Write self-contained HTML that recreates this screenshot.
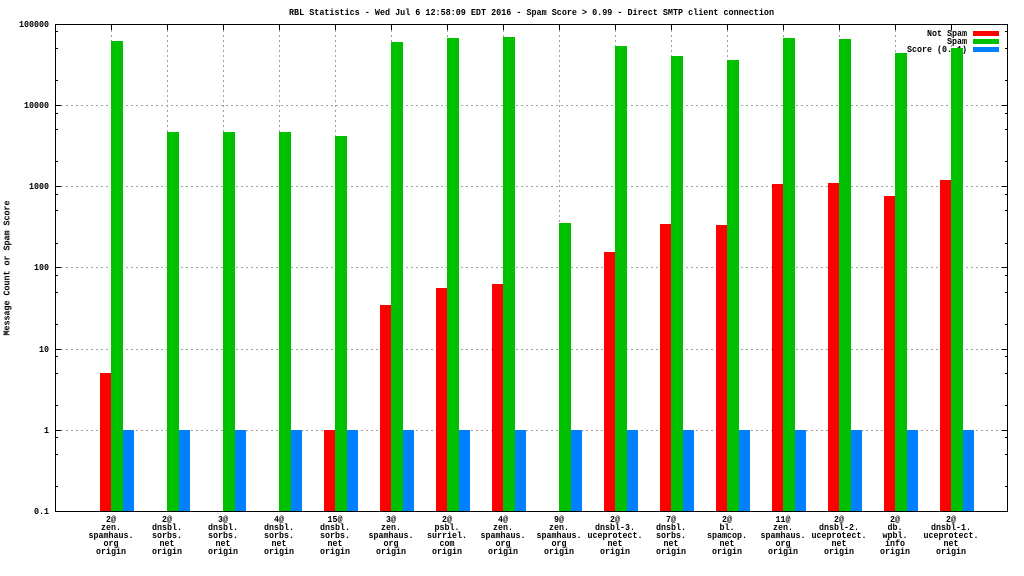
<!DOCTYPE html>
<html>
<head>
<meta charset="utf-8">
<style>
  html, body { margin:0; padding:0; background:#fff; }
  svg { display:block; }
  text { font-family: "Liberation Mono", "DejaVu Sans Mono", monospace; font-size:9px; font-weight:bold; fill:#000; }
</style>
</head>
<body>
<svg width="1024" height="576" viewBox="0 0 1024 576" xmlns="http://www.w3.org/2000/svg">
  <rect x="0" y="0" width="1024" height="576" fill="#fff"/>

  <!-- Title -->
  <text x="531.5" y="15" text-anchor="middle" textLength="485" lengthAdjust="spacingAndGlyphs">RBL Statistics - Wed Jul  6 12:58:09 EDT 2016 - Spam Score &gt; 0.99 - Direct SMTP client connection</text>

  <!-- Grid -->
  <g stroke="#a0a0a0" stroke-width="1" stroke-dasharray="2,3" fill="none" shape-rendering="crispEdges">
    <path d="M56 430.5H1007 M56 349.5H1007 M56 267.5H1007 M56 186.5H1007 M56 105.5H1007"/>
    <path d="M111.5 25V511 M167.5 25V511 M223.5 25V511 M279.5 25V511 M335.5 25V511 M391.5 25V511 M447.5 25V511 M503.5 25V511 M559.5 25V511 M615.5 25V511 M671.5 25V511 M727.5 25V511 M783.5 25V511 M839.5 25V511 M895.5 25V511 M951.5 25V511"/>
  </g>

  <!-- Ticks -->
  <g stroke="#000" stroke-width="1" fill="none" shape-rendering="crispEdges">
    <path d="M55 430.5h6 M55 349.5h6 M55 267.5h6 M55 186.5h6 M55 105.5h6 M1008 430.5h-6 M1008 349.5h-6 M1008 267.5h-6 M1008 186.5h-6 M1008 105.5h-6"/>
    <path d="M55 486.5h3 M55 454.5h3 M55 437.5h3 M55 405.5h3 M55 373.5h3 M55 356.5h3 M55 324.5h3 M55 292.5h3 M55 275.5h3 M55 243.5h3 M55 210.5h3 M55 194.5h3 M55 161.5h3 M55 129.5h3 M55 113.5h3 M55 80.5h3 M55 48.5h3 M55 31.5h3"/>
    <path d="M1008 486.5h-3 M1008 454.5h-3 M1008 437.5h-3 M1008 405.5h-3 M1008 373.5h-3 M1008 356.5h-3 M1008 324.5h-3 M1008 292.5h-3 M1008 275.5h-3 M1008 243.5h-3 M1008 210.5h-3 M1008 194.5h-3 M1008 161.5h-3 M1008 129.5h-3 M1008 113.5h-3 M1008 80.5h-3 M1008 48.5h-3 M1008 31.5h-3"/>
    <path d="M111.5 24v6 M167.5 24v6 M223.5 24v6 M279.5 24v6 M335.5 24v6 M391.5 24v6 M447.5 24v6 M503.5 24v6 M559.5 24v6 M615.5 24v6 M671.5 24v6 M727.5 24v6 M783.5 24v6 M839.5 24v6 M895.5 24v6 M951.5 24v6"/>
  </g>

  <!-- Legend -->
  <text x="967" y="36" text-anchor="end" textLength="40" lengthAdjust="spacingAndGlyphs">Not Spam</text>
  <text x="967" y="44" text-anchor="end" textLength="20" lengthAdjust="spacingAndGlyphs">Spam</text>
  <text x="967" y="52" text-anchor="end" textLength="60" lengthAdjust="spacingAndGlyphs">Score (0..1)</text>
  <g shape-rendering="crispEdges">
    <rect x="973" y="31" width="26" height="5" fill="#ff0000"/>
    <rect x="973" y="39" width="26" height="5" fill="#00c000"/>
    <rect x="973" y="47" width="26" height="5" fill="#0080ff"/>
  </g>

  <!-- Bars -->
  <g shape-rendering="crispEdges">
    <g fill="#ff0000">
      <rect x="100" y="373" width="11" height="138"/>
      <rect x="324" y="430" width="11" height="81"/>
      <rect x="380" y="305" width="11" height="206"/>
      <rect x="436" y="288" width="11" height="223"/>
      <rect x="492" y="284" width="11" height="227"/>
      <rect x="604" y="252" width="11" height="259"/>
      <rect x="660" y="224" width="11" height="287"/>
      <rect x="716" y="225" width="11" height="286"/>
      <rect x="772" y="184" width="11" height="327"/>
      <rect x="828" y="183" width="11" height="328"/>
      <rect x="884" y="196" width="11" height="315"/>
      <rect x="940" y="180" width="11" height="331"/>
    </g>
    <g fill="#00c000">
      <rect x="111" y="41" width="12" height="470"/>
      <rect x="167" y="132" width="12" height="379"/>
      <rect x="223" y="132" width="12" height="379"/>
      <rect x="279" y="132" width="12" height="379"/>
      <rect x="335" y="136" width="12" height="375"/>
      <rect x="391" y="42" width="12" height="469"/>
      <rect x="447" y="38" width="12" height="473"/>
      <rect x="503" y="37" width="12" height="474"/>
      <rect x="559" y="223" width="12" height="288"/>
      <rect x="615" y="46" width="12" height="465"/>
      <rect x="671" y="56" width="12" height="455"/>
      <rect x="727" y="60" width="12" height="451"/>
      <rect x="783" y="38" width="12" height="473"/>
      <rect x="839" y="39" width="12" height="472"/>
      <rect x="895" y="53" width="12" height="458"/>
      <rect x="951" y="48" width="12" height="463"/>
    </g>
    <g fill="#0080ff">
      <rect x="123" y="430" width="11" height="81"/>
      <rect x="179" y="430" width="11" height="81"/>
      <rect x="235" y="430" width="11" height="81"/>
      <rect x="291" y="430" width="11" height="81"/>
      <rect x="347" y="430" width="11" height="81"/>
      <rect x="403" y="430" width="11" height="81"/>
      <rect x="459" y="430" width="11" height="81"/>
      <rect x="515" y="430" width="11" height="81"/>
      <rect x="571" y="430" width="11" height="81"/>
      <rect x="627" y="430" width="11" height="81"/>
      <rect x="683" y="430" width="11" height="81"/>
      <rect x="739" y="430" width="11" height="81"/>
      <rect x="795" y="430" width="11" height="81"/>
      <rect x="851" y="430" width="11" height="81"/>
      <rect x="907" y="430" width="11" height="81"/>
      <rect x="963" y="430" width="11" height="81"/>
    </g>
  </g>

  <!-- Border -->
  <rect x="55.5" y="24.5" width="952" height="487" fill="none" stroke="#000" stroke-width="1" shape-rendering="crispEdges"/>

  <!-- Y tick labels -->
  <g text-anchor="end">
    <text x="49" y="514" textLength="15" lengthAdjust="spacingAndGlyphs">0.1</text>
    <text x="49" y="433" textLength="5" lengthAdjust="spacingAndGlyphs">1</text>
    <text x="49" y="352" textLength="10" lengthAdjust="spacingAndGlyphs">10</text>
    <text x="49" y="270" textLength="15" lengthAdjust="spacingAndGlyphs">100</text>
    <text x="49" y="189" textLength="20" lengthAdjust="spacingAndGlyphs">1000</text>
    <text x="49" y="108" textLength="25" lengthAdjust="spacingAndGlyphs">10000</text>
    <text x="49" y="27" textLength="30" lengthAdjust="spacingAndGlyphs">100000</text>
  </g>

  <!-- Y axis label -->
  <text transform="translate(9.5,268) rotate(-90)" text-anchor="middle" textLength="135" lengthAdjust="spacingAndGlyphs">Message Count or Spam Score</text>

  <!-- X labels -->
  <g text-anchor="middle">
    <g transform="translate(111,0)">
      <text x="0" y="522" textLength="10" lengthAdjust="spacingAndGlyphs">2@</text>
      <text x="0" y="530" textLength="20" lengthAdjust="spacingAndGlyphs">zen.</text>
      <text x="0" y="538" textLength="45" lengthAdjust="spacingAndGlyphs">spamhaus.</text>
      <text x="0" y="546" textLength="15" lengthAdjust="spacingAndGlyphs">org</text>
      <text x="0" y="554" textLength="30" lengthAdjust="spacingAndGlyphs">origin</text>
    </g>
    <g transform="translate(167,0)">
      <text x="0" y="522" textLength="10" lengthAdjust="spacingAndGlyphs">2@</text>
      <text x="0" y="530" textLength="30" lengthAdjust="spacingAndGlyphs">dnsbl.</text>
      <text x="0" y="538" textLength="30" lengthAdjust="spacingAndGlyphs">sorbs.</text>
      <text x="0" y="546" textLength="15" lengthAdjust="spacingAndGlyphs">net</text>
      <text x="0" y="554" textLength="30" lengthAdjust="spacingAndGlyphs">origin</text>
    </g>
    <g transform="translate(223,0)">
      <text x="0" y="522" textLength="10" lengthAdjust="spacingAndGlyphs">3@</text>
      <text x="0" y="530" textLength="30" lengthAdjust="spacingAndGlyphs">dnsbl.</text>
      <text x="0" y="538" textLength="30" lengthAdjust="spacingAndGlyphs">sorbs.</text>
      <text x="0" y="546" textLength="15" lengthAdjust="spacingAndGlyphs">net</text>
      <text x="0" y="554" textLength="30" lengthAdjust="spacingAndGlyphs">origin</text>
    </g>
    <g transform="translate(279,0)">
      <text x="0" y="522" textLength="10" lengthAdjust="spacingAndGlyphs">4@</text>
      <text x="0" y="530" textLength="30" lengthAdjust="spacingAndGlyphs">dnsbl.</text>
      <text x="0" y="538" textLength="30" lengthAdjust="spacingAndGlyphs">sorbs.</text>
      <text x="0" y="546" textLength="15" lengthAdjust="spacingAndGlyphs">net</text>
      <text x="0" y="554" textLength="30" lengthAdjust="spacingAndGlyphs">origin</text>
    </g>
    <g transform="translate(335,0)">
      <text x="0" y="522" textLength="15" lengthAdjust="spacingAndGlyphs">15@</text>
      <text x="0" y="530" textLength="30" lengthAdjust="spacingAndGlyphs">dnsbl.</text>
      <text x="0" y="538" textLength="30" lengthAdjust="spacingAndGlyphs">sorbs.</text>
      <text x="0" y="546" textLength="15" lengthAdjust="spacingAndGlyphs">net</text>
      <text x="0" y="554" textLength="30" lengthAdjust="spacingAndGlyphs">origin</text>
    </g>
    <g transform="translate(391,0)">
      <text x="0" y="522" textLength="10" lengthAdjust="spacingAndGlyphs">3@</text>
      <text x="0" y="530" textLength="20" lengthAdjust="spacingAndGlyphs">zen.</text>
      <text x="0" y="538" textLength="45" lengthAdjust="spacingAndGlyphs">spamhaus.</text>
      <text x="0" y="546" textLength="15" lengthAdjust="spacingAndGlyphs">org</text>
      <text x="0" y="554" textLength="30" lengthAdjust="spacingAndGlyphs">origin</text>
    </g>
    <g transform="translate(447,0)">
      <text x="0" y="522" textLength="10" lengthAdjust="spacingAndGlyphs">2@</text>
      <text x="0" y="530" textLength="25" lengthAdjust="spacingAndGlyphs">psbl.</text>
      <text x="0" y="538" textLength="40" lengthAdjust="spacingAndGlyphs">surriel.</text>
      <text x="0" y="546" textLength="15" lengthAdjust="spacingAndGlyphs">com</text>
      <text x="0" y="554" textLength="30" lengthAdjust="spacingAndGlyphs">origin</text>
    </g>
    <g transform="translate(503,0)">
      <text x="0" y="522" textLength="10" lengthAdjust="spacingAndGlyphs">4@</text>
      <text x="0" y="530" textLength="20" lengthAdjust="spacingAndGlyphs">zen.</text>
      <text x="0" y="538" textLength="45" lengthAdjust="spacingAndGlyphs">spamhaus.</text>
      <text x="0" y="546" textLength="15" lengthAdjust="spacingAndGlyphs">org</text>
      <text x="0" y="554" textLength="30" lengthAdjust="spacingAndGlyphs">origin</text>
    </g>
    <g transform="translate(559,0)">
      <text x="0" y="522" textLength="10" lengthAdjust="spacingAndGlyphs">9@</text>
      <text x="0" y="530" textLength="20" lengthAdjust="spacingAndGlyphs">zen.</text>
      <text x="0" y="538" textLength="45" lengthAdjust="spacingAndGlyphs">spamhaus.</text>
      <text x="0" y="546" textLength="15" lengthAdjust="spacingAndGlyphs">org</text>
      <text x="0" y="554" textLength="30" lengthAdjust="spacingAndGlyphs">origin</text>
    </g>
    <g transform="translate(615,0)">
      <text x="0" y="522" textLength="10" lengthAdjust="spacingAndGlyphs">2@</text>
      <text x="0" y="530" textLength="40" lengthAdjust="spacingAndGlyphs">dnsbl-3.</text>
      <text x="0" y="538" textLength="55" lengthAdjust="spacingAndGlyphs">uceprotect.</text>
      <text x="0" y="546" textLength="15" lengthAdjust="spacingAndGlyphs">net</text>
      <text x="0" y="554" textLength="30" lengthAdjust="spacingAndGlyphs">origin</text>
    </g>
    <g transform="translate(671,0)">
      <text x="0" y="522" textLength="10" lengthAdjust="spacingAndGlyphs">7@</text>
      <text x="0" y="530" textLength="30" lengthAdjust="spacingAndGlyphs">dnsbl.</text>
      <text x="0" y="538" textLength="30" lengthAdjust="spacingAndGlyphs">sorbs.</text>
      <text x="0" y="546" textLength="15" lengthAdjust="spacingAndGlyphs">net</text>
      <text x="0" y="554" textLength="30" lengthAdjust="spacingAndGlyphs">origin</text>
    </g>
    <g transform="translate(727,0)">
      <text x="0" y="522" textLength="10" lengthAdjust="spacingAndGlyphs">2@</text>
      <text x="0" y="530" textLength="15" lengthAdjust="spacingAndGlyphs">bl.</text>
      <text x="0" y="538" textLength="40" lengthAdjust="spacingAndGlyphs">spamcop.</text>
      <text x="0" y="546" textLength="15" lengthAdjust="spacingAndGlyphs">net</text>
      <text x="0" y="554" textLength="30" lengthAdjust="spacingAndGlyphs">origin</text>
    </g>
    <g transform="translate(783,0)">
      <text x="0" y="522" textLength="15" lengthAdjust="spacingAndGlyphs">11@</text>
      <text x="0" y="530" textLength="20" lengthAdjust="spacingAndGlyphs">zen.</text>
      <text x="0" y="538" textLength="45" lengthAdjust="spacingAndGlyphs">spamhaus.</text>
      <text x="0" y="546" textLength="15" lengthAdjust="spacingAndGlyphs">org</text>
      <text x="0" y="554" textLength="30" lengthAdjust="spacingAndGlyphs">origin</text>
    </g>
    <g transform="translate(839,0)">
      <text x="0" y="522" textLength="10" lengthAdjust="spacingAndGlyphs">2@</text>
      <text x="0" y="530" textLength="40" lengthAdjust="spacingAndGlyphs">dnsbl-2.</text>
      <text x="0" y="538" textLength="55" lengthAdjust="spacingAndGlyphs">uceprotect.</text>
      <text x="0" y="546" textLength="15" lengthAdjust="spacingAndGlyphs">net</text>
      <text x="0" y="554" textLength="30" lengthAdjust="spacingAndGlyphs">origin</text>
    </g>
    <g transform="translate(895,0)">
      <text x="0" y="522" textLength="10" lengthAdjust="spacingAndGlyphs">2@</text>
      <text x="0" y="530" textLength="15" lengthAdjust="spacingAndGlyphs">db.</text>
      <text x="0" y="538" textLength="25" lengthAdjust="spacingAndGlyphs">wpbl.</text>
      <text x="0" y="546" textLength="20" lengthAdjust="spacingAndGlyphs">info</text>
      <text x="0" y="554" textLength="30" lengthAdjust="spacingAndGlyphs">origin</text>
    </g>
    <g transform="translate(951,0)">
      <text x="0" y="522" textLength="10" lengthAdjust="spacingAndGlyphs">2@</text>
      <text x="0" y="530" textLength="40" lengthAdjust="spacingAndGlyphs">dnsbl-1.</text>
      <text x="0" y="538" textLength="55" lengthAdjust="spacingAndGlyphs">uceprotect.</text>
      <text x="0" y="546" textLength="15" lengthAdjust="spacingAndGlyphs">net</text>
      <text x="0" y="554" textLength="30" lengthAdjust="spacingAndGlyphs">origin</text>
    </g>
  </g>
</svg>
</body>
</html>
